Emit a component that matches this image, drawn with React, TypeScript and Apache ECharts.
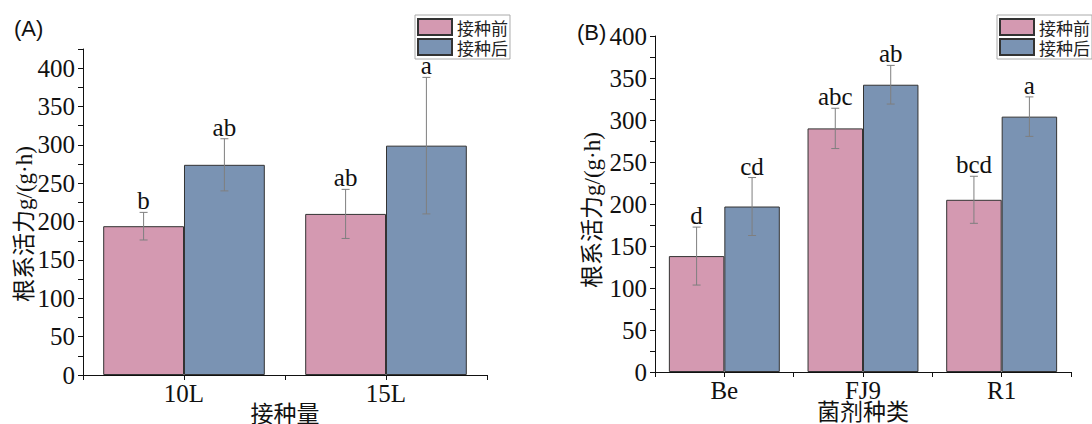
import React, { useEffect, useRef } from "react";
import * as echarts from "echarts";

const seriesNames = ["接种前", "接种后"];

const catsA = ["10L", "15L"];
const beforeA = [194, 210];
const afterA = [274, 299];
const errBeforeA = [18, 32];
const errAfterA = [34, 89];
const letBeforeA = ["b", "ab"];
const letAfterA = ["ab", "a"];

const catsB = ["Be", "FJ9", "R1"];
const beforeB = [138, 290, 205];
const afterB = [197, 342, 304];
const errBeforeB = [34.5, 24, 28];
const errAfterB = [34.5, 23, 23.5];
const letBeforeB = ["d", "abc", "bcd"];
const letAfterB = ["cd", "ab", "a"];

const yTicksMajor = 50;

const PINK = "#d499b1";
const BLUE = "#7a93b3";
const SERIF = "'Liberation Serif', 'Times New Roman', serif";
const MIXED = "'Liberation Serif', 'Noto Sans CJK SC', serif";
const CJK = "'Noto Sans CJK SC', sans-serif";

function errSeries(
  xAxisIndex: number,
  yAxisIndex: number,
  vals: number[],
  errs: number[],
  letters: string[],
  side: number
) {
  return {
    type: "custom",
    xAxisIndex,
    yAxisIndex,
    z: 10,
    clip: false,
    silent: true,
    data: vals.map((v, i) => [i, v, errs[i]]),
    renderItem: (params: any, api: any) => {
      const idx = api.value(0);
      const v = api.value(1);
      const e = api.value(2);
      const band = api.size([1, 0])[0];
      const c = api.coord([idx, v]);
      const x = c[0] + side * band * 0.2;
      const top = api.coord([idx, v + e])[1];
      const bot = api.coord([idx, v - e])[1];
      const cap = 4;
      const ls = { stroke: "#7f7f7f", lineWidth: 1 };
      const letter = letters[params.dataIndex];
      return {
        type: "group",
        children: [
          { type: "line", shape: { x1: x, y1: top, x2: x, y2: bot }, style: ls },
          { type: "line", shape: { x1: x - cap, y1: top, x2: x + cap, y2: top }, style: ls },
          { type: "line", shape: { x1: x - cap, y1: bot, x2: x + cap, y2: bot }, style: ls },
          {
            type: "text",
            style: {
              text: letter,
              x: x,
              y: top + 1,
              align: "center",
              verticalAlign: "bottom",
              fontSize: 25,
              fontFamily: SERIF,
              fill: "#111",
            },
          },
        ],
      };
    },
  };
}

function barSeries(name: string, xAxisIndex: number, yAxisIndex: number, data: number[], color: string) {
  return {
    name,
    type: "bar",
    xAxisIndex,
    yAxisIndex,
    data,
    barGap: "0%",
    barCategoryGap: "20%",
    itemStyle: { color, borderColor: "#333", borderWidth: 1 },
  };
}

function xAxes(gridIndex: number, cats: string[], name: string, nameGap: number) {
  return [
    {
      type: "category",
      gridIndex,
      data: cats,
      position: "bottom",
      name,
      nameLocation: "middle",
      nameGap,
      nameMoveOverlap: false,
      nameTextStyle: { fontFamily: CJK, fontSize: 23, color: "#111", lineHeight: 26 },
      axisLine: { show: true, lineStyle: { color: "#111", width: 1 } },
      axisTick: { show: true, length: 5, alignWithLabel: false, lineStyle: { color: "#111" } },
      axisLabel: { fontFamily: SERIF, fontSize: 25, color: "#111", margin: 6 },
      splitLine: { show: false },
    },
    {
      type: "category",
      gridIndex,
      data: cats,
      position: "bottom",
      offset: 0,
      axisLine: { show: false },
      axisTick: { show: true, length: 5, alignWithLabel: true, lineStyle: { color: "#111" } },
      axisLabel: { show: false },
      splitLine: { show: false },
    },
  ];
}

function yAxis(gridIndex: number, max: number, nameGap: number, shiftDown: number) {
  return {
    type: "value",
    gridIndex,
    min: 0,
    max,
    interval: 25,
    name: "根系活力g/(g·h)",
    nameLocation: "middle",
    nameGap,
    nameMoveOverlap: false,
    nameTextStyle: { fontFamily: MIXED, fontSize: 23, color: "#111", padding: [0, shiftDown * 2, 0, 0] },
    axisLine: { show: true, lineStyle: { color: "#111", width: 1 } },
    axisTick: { show: true, length: 5, lineStyle: { color: "#111" } },
    axisLabel: {
      fontFamily: SERIF,
      fontSize: 25,
      color: "#111",
      margin: 8,
      showMaxLabel: true,
      formatter: (v: number) => (v % yTicksMajor === 0 ? String(v) : ""),
    },
    splitLine: { show: false },
  };
}

function legend(left: number, top: number) {
  return {
    left,
    top,
    orient: "vertical",
    data: seriesNames,
    itemWidth: 34,
    itemHeight: 16,
    itemGap: 2,
    padding: [3, 2, 3, 2],
    borderColor: "#aaa",
    borderWidth: 1,
    icon: "rect",
    textStyle: { fontFamily: CJK, fontSize: 17, lineHeight: 16, color: "#222" },
    selectedMode: false,
  };
}

export default function App() {
  const ref = useRef<HTMLDivElement>(null);
  useEffect(() => {
    document.body.style.margin = "0";
    const chart = echarts.init(ref.current!, null, { renderer: "svg" });
    chart.setOption({
      animation: false,
      backgroundColor: "#fff",
      title: [
        { text: "(A)", left: 9, top: 12, textStyle: { fontFamily: "'Liberation Sans', Arial, sans-serif", fontSize: 22, fontWeight: "normal", color: "#111" } },
        { text: "(B)", left: 572, top: 16, textStyle: { fontFamily: "'Liberation Sans', Arial, sans-serif", fontSize: 22, fontWeight: "normal", color: "#111" } },
      ],
      legend: [legend(415, 15), legend(997, 15)],
      grid: [
        { left: 83, top: 49, width: 404, height: 326, containLabel: false, outerBoundsMode: "none" },
        { left: 655, top: 36, width: 416, height: 336, containLabel: false, outerBoundsMode: "none" },
      ],
      xAxis: [...xAxes(0, catsA, "接种量", 24), ...xAxes(1, catsB, "菌剂种类", 25)],
      yAxis: [yAxis(0, 425, 47, 12), yAxis(1, 400, 51, 6)],
      series: [
        barSeries(seriesNames[0], 0, 0, beforeA, PINK),
        barSeries(seriesNames[1], 0, 0, afterA, BLUE),
        barSeries(seriesNames[0], 2, 1, beforeB, PINK),
        barSeries(seriesNames[1], 2, 1, afterB, BLUE),
        errSeries(0, 0, beforeA, errBeforeA, letBeforeA, -1),
        errSeries(0, 0, afterA, errAfterA, letAfterA, 1),
        errSeries(2, 1, beforeB, errBeforeB, letBeforeB, -1),
        errSeries(2, 1, afterB, errAfterB, letAfterB, 1),
      ],
    });
    return () => chart.dispose();
  }, []);
  return <div ref={ref} style={{ width: 1092, height: 424 }} />;
}
